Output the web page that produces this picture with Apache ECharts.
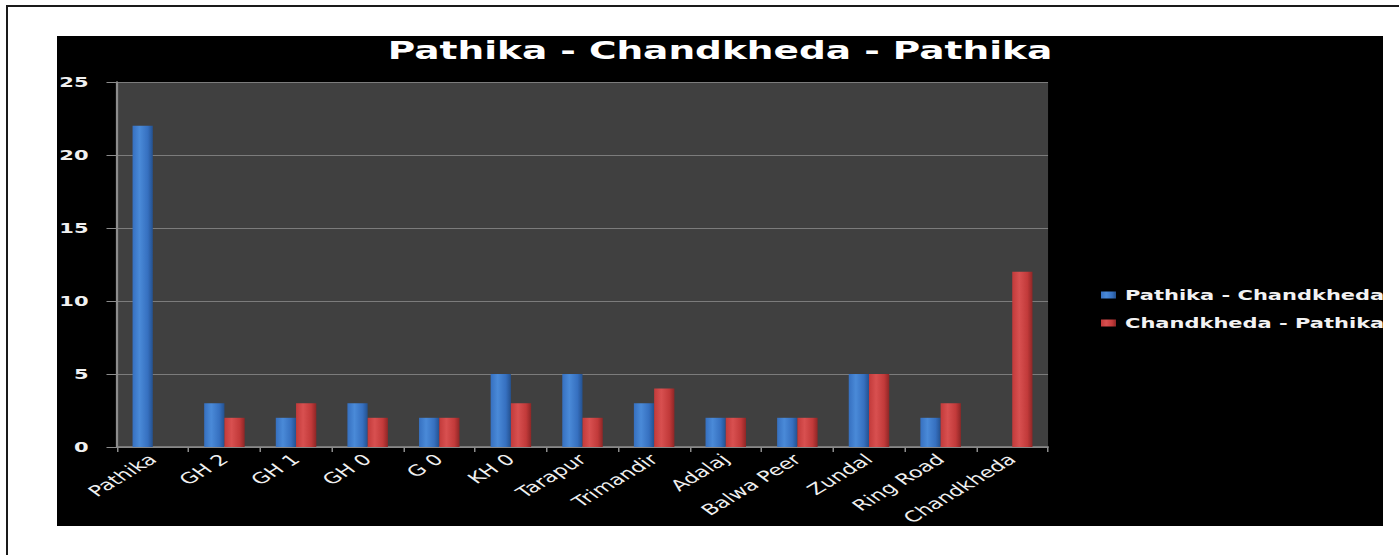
<!DOCTYPE html>
<html>
<head>
<meta charset="utf-8">
<title>Pathika - Chandkheda - Pathika</title>
<script src="https://cdn.jsdelivr.net/npm/echarts@6/dist/echarts.min.js"></script>
<style>
    html, body { margin: 0; padding: 0; background: #fff; width: 1399px; height: 555px; overflow: hidden; }
    #frame {
        position: absolute; left: 6px; top: 5px; width: 1400px; height: 560px;
        border-top: 2px solid #1a1a1a; border-left: 2px solid #1a1a1a;
    }
    /* the original picture is stretched sideways, so the chart is drawn narrow and scaled */
    #main {
        position: absolute; left: 57px; top: 36px; width: 884px; height: 490px;
        background: #000; transform: scaleX(1.5); transform-origin: 0 0;
    }
</style>
</head>
<body>
<div id="frame"></div>
<div id="main"></div>
<script type="text/javascript">
    var stops = ['Pathika', 'GH 2', 'GH 1', 'GH 0', 'G 0', 'KH 0', 'Tarapur', 'Trimandir',
        'Adalaj', 'Balwa Peer', 'Zundal', 'Ring Road', 'Chandkheda'];
    var toChandkheda = [22, 3, 2, 3, 2, 5, 5, 3, 2, 2, 5, 2, '-'];
    var toPathika = ['-', 2, 3, 2, 2, 3, 2, 4, 2, 2, 5, 3, 12];

    function barColor(dark, mid, light) {
        return new echarts.graphic.LinearGradient(0, 0, 1, 0, [
            { offset: 0, color: mid },
            { offset: 0.35, color: light },
            { offset: 0.75, color: mid },
            { offset: 1, color: dark }
        ]);
    }

    var chart = echarts.init(document.getElementById('main'), null, { renderer: 'svg' });
    chart.setOption({
        backgroundColor: '#000',
        animation: false,
        textStyle: { fontFamily: 'DejaVu Sans' },
        title: {
            text: 'Pathika - Chandkheda - Pathika',
            left: 'center',
            top: 2,
            padding: 0,
            textStyle: { color: '#fff', fontSize: 25, fontWeight: 'bold', fontFamily: 'DejaVu Sans' }
        },
        legend: {
            orient: 'vertical',
            left: 691,
            top: 247,
            itemWidth: 10,
            itemHeight: 7,
            itemGap: 14,
            icon: 'rect',
            textStyle: { color: '#f2f2f2', fontSize: 14, fontWeight: 'bold', padding: [0, 0, 0, 1] },
            data: ['Pathika - Chandkheda', 'Chandkheda - Pathika']
        },
        grid: {
            left: 40,
            top: 46,
            width: 620.7,
            height: 365,
            outerBoundsMode: 'none',
            containLabel: false,
            show: true,
            backgroundColor: '#404040',
            borderWidth: 0
        },
        xAxis: {
            type: 'category',
            data: stops,
            axisLine: { lineStyle: { color: '#8c8c8c', width: 1.5 } },
            axisTick: { show: true, length: 5, lineStyle: { color: '#8c8c8c' } },
            axisLabel: {
                color: '#f0f0f0',
                fontSize: 15,
                rotate: 42,
                margin: 10,
                interval: 0
            }
        },
        yAxis: {
            type: 'value',
            min: 0,
            max: 25,
            interval: 5,
            axisLine: { show: true, lineStyle: { color: '#8c8c8c', width: 1.5 } },
            axisTick: { show: true, length: 7, lineStyle: { color: '#8c8c8c' } },
            splitLine: { lineStyle: { color: '#7c7c7c', width: 1 } },
            axisLabel: { color: '#f0f0f0', fontSize: 14, fontWeight: 'bold', margin: 19 }
        },
        series: [{
            name: 'Pathika - Chandkheda',
            type: 'bar',
            data: toChandkheda,
            barWidth: 13.5,
            barGap: '0%',
            itemStyle: { color: barColor('#24518f', '#3670c0', '#4a8ad8') }
        }, {
            name: 'Chandkheda - Pathika',
            type: 'bar',
            data: toPathika,
            barWidth: 13.5,
            itemStyle: { color: barColor('#8e2626', '#c23a3a', '#d85050') }
        }]
    });
</script>
</body>
</html>
